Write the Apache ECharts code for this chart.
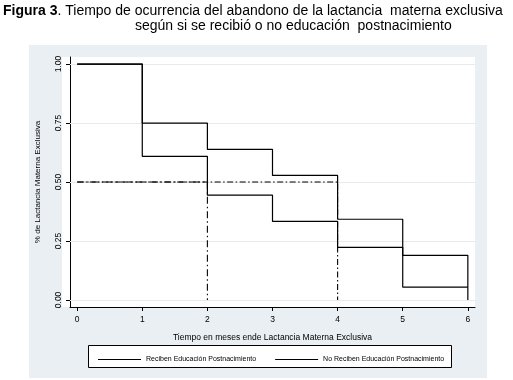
<!DOCTYPE html>
<html>
<head>
<meta charset="utf-8">
<script src="https://cdn.jsdelivr.net/npm/echarts@6/dist/echarts.min.js"></script>
<style>
  html, body { margin: 0; padding: 0; background: #fff; }
  #main { width: 513px; height: 380px; }
</style>
</head>
<body>
<div id="main"></div>
<script>
  var chartDom = document.getElementById('main');
  var chart = echarts.init(chartDom);

  // tiempo en meses
  var months = [0, 1, 2, 3, 4, 5, 6];
  var yTicks = [0, 0.25, 0.5, 0.75, 1];
  // supervivencia Kaplan-Meier
  var reciben = [1.00, 0.75, 0.638, 0.528, 0.342, 0.189, 0.0];
  var noReciben = [1.00, 0.609, 0.444, 0.333, 0.223, 0.054, 0.054];
  // medianas
  var medianNo = [[0, 0.5], [2, 0.5], [2, 0]];
  var medianSi = [[0, 0.5], [4, 0.5], [4, 0]];

  var font = 'Liberation Sans, Arial, sans-serif';

  function stepData(vals) {
    return months.map((m, i) => [m, vals[i]]);
  }

  var option = {
    animation: false,
    textStyle: { fontFamily: font },
    graphic: [
      { type: 'rect', shape: { x: 29, y: 45, width: 458, height: 333 }, style: { fill: '#e9eff2' }, z: -10 },
      { type: 'rect', shape: { x: 62, y: 57, width: 413, height: 250 }, style: { fill: '#ffffff' }, z: -9 },
      { type: 'rect', shape: { x: 88.5, y: 345.5, width: 363, height: 22 }, style: { fill: '#ffffff', stroke: '#000', lineWidth: 1 }, z: -8 },
      {
        type: 'text', left: 3, top: 4,
        style: {
          text: '{b|Figura 3}. Tiempo de ocurrencia del abandono de la lactancia  materna exclusiva',
          font: '14px ' + font, fill: '#000',
          rich: { b: { fontWeight: 'bold', fontSize: 14, fontFamily: font } }
        }
      },
      {
        type: 'text', left: 135, top: 19,
        style: { text: 'según si se recibió o no educación  postnacimiento', font: '14px ' + font, fill: '#000' }
      }
    ],
    grid: { left: 70, right: 38, top: 57, bottom: 73 },
    legend: {
      left: 93, top: 351,
      itemWidth: 43, itemHeight: 1.2, itemGap: 19,
      icon: 'rect',
      data: ['Reciben Educación Postnacimiento', 'No Reciben Educación Postnacimiento'],
      textStyle: { fontSize: 7, color: '#000', fontFamily: font }
    },
    xAxis: {
      type: 'value', min: -0.11, max: 6.11,
      name: 'Tiempo en meses ende Lactancia Materna Exclusiva',
      nameLocation: 'middle', nameGap: 26,
      nameTextStyle: { fontSize: 8.5, color: '#000' },
      axisLine: { show: true, onZero: false, lineStyle: { color: '#000', width: 1 } },
      axisTick: { show: true, length: 4, customValues: months, lineStyle: { color: '#000' } },
      axisLabel: { customValues: months, fontSize: 8.5, color: '#000', margin: 8 },
      splitLine: { show: false }
    },
    yAxis: {
      type: 'value', min: -0.03, max: 1.03,
      name: '% de Lactancia Materna Exclusiva',
      nameLocation: 'middle', nameGap: 28, nameRotate: 90,
      nameTextStyle: { fontSize: 8, color: '#000' },
      axisLine: { show: true, onZero: false, lineStyle: { color: '#000', width: 1 } },
      axisTick: { show: true, length: 4, customValues: yTicks, lineStyle: { color: '#000' } },
      axisLabel: {
        customValues: yTicks, fontSize: 8.5, color: '#000', rotate: 90, margin: 7,
        formatter: v => v.toFixed(2)
      },
      splitLine: { show: false }
    },
    series: [
      {
        // lineas de cuadricula
        type: 'line', data: [], silent: true, z: 1,
        markLine: {
          silent: true, symbol: 'none', label: { show: false }, z: 1,
          lineStyle: { color: '#e6eaec', width: 1, type: 'solid' },
          data: yTicks.map(v => ({ yAxis: v }))
        }
      },
      {
        name: 'Reciben Educación Postnacimiento',
        type: 'line', step: 'end', showSymbol: false, silent: true,
        itemStyle: { color: '#000' },
        lineStyle: { color: '#000', width: 1.2 },
        data: stepData(reciben),
        z: 5
      },
      {
        name: 'No Reciben Educación Postnacimiento',
        type: 'line', step: 'end', showSymbol: false, silent: true,
        itemStyle: { color: '#000' },
        lineStyle: { color: '#000', width: 1.2 },
        data: stepData(noReciben),
        z: 5
      },
      {
        type: 'line', showSymbol: false, silent: true,
        lineStyle: { color: '#000', width: 1.1, type: [7, 3, 1.5, 3] },
        data: medianNo, z: 3
      },
      {
        type: 'line', showSymbol: false, silent: true,
        lineStyle: { color: '#000', width: 1.1, type: [6, 2.5, 1.5, 2.5] },
        data: medianSi, z: 3
      }
    ]
  };

  chart.setOption(option);

  window.addEventListener('resize', function () {
    chart.resize();
  });
</script>
</body>
</html>
